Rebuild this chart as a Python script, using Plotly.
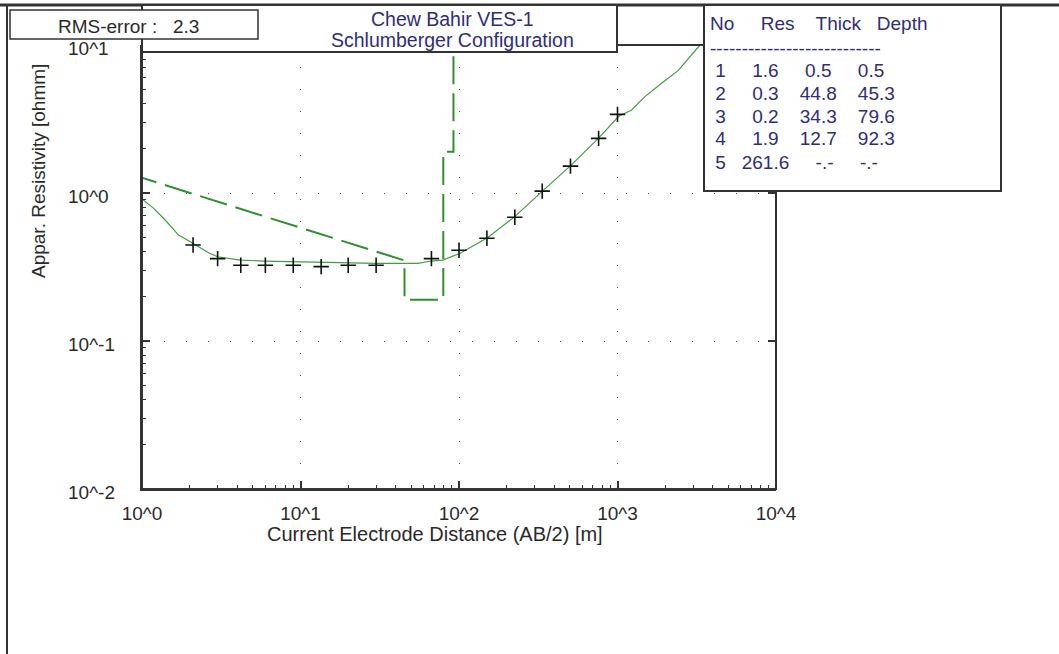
import numpy as np
import plotly.graph_objects as go

# ---------------- data ----------------
ab2 = [2.1, 3.0, 4.2, 6.0, 9.0, 13.5, 20, 30, 67, 100, 150, 225, 335, 505, 760, 1000]
rho_field = [0.445, 0.36, 0.325, 0.325, 0.325, 0.318, 0.325, 0.325, 0.36, 0.41,
             0.495, 0.685, 1.03, 1.52, 2.34, 3.4]

calc_x = [1.0, 1.18, 1.4, 1.7, 2.08, 2.63, 3.0, 4.17, 5.86, 10, 20, 30.3, 55, 66.5, 79,
          101, 152, 224, 336, 506, 762, 1019, 1227, 1489, 1897, 2421, 3243, 3600]
calc_y = [0.91, 0.79, 0.657, 0.52, 0.46, 0.395, 0.371, 0.352, 0.347, 0.343, 0.338, 0.335,
          0.335, 0.347, 0.352, 0.39, 0.50, 0.69, 1.03, 1.53, 2.36, 3.3, 3.64, 4.48, 5.51,
          6.74, 9.73, 10.8]

layer_res_plot = [1.6, 0.35, 0.19, 1.9, 261.6]
layer_depth = [0.5, 45.3, 79.6, 92.3]

table_no = ["1", "2", "3", "4", "5"]
table_res = ["1.6", "0.3", "0.2", "1.9", "261.6"]
table_thick = ["0.5", "44.8", "34.3", "12.7", "-.-"]
table_depth = ["0.5", "45.3", "79.6", "92.3", "-.-"]
rms_value = "2.3"

x_tickvals = [1, 10, 100, 1000, 10000]
x_ticktext = ["10^0", "10^1", "10^2", "10^3", "10^4"]
y_tickvals = [0.01, 0.1, 1, 10]
y_ticktext = ["10^-2", "10^-1", "10^0", "10^1"]

title_lines = ["Chew Bahir VES-1", "Schlumberger Configuration"]
x_title = "Current Electrode Distance (AB/2) [m]"
y_title = "Appar. Resistivity [ohmm]"

# ---------------- layout geometry (pixels) ----------------
W, H = 1059, 654
L, R, T, B = 142, 776, 45, 489
FONT = "Liberation Sans, Arial, sans-serif"
INK = "#2a2a2a"
NAVY = "#2e2e7a"
GREEN_MODEL = "#2f8f2f"
GREEN_CALC = "#3f9f3f"


def fx(px):
    return (px - L) / (R - L)


def fy(py):
    return (B - py) / (B - T)


# model polyline built from the layer arrays
mx = [layer_depth[0]]
my = [layer_res_plot[0]]
for i in range(1, len(layer_depth)):
    mx += [layer_depth[i], layer_depth[i]]
    my += [layer_res_plot[i], layer_res_plot[i + 1]]

minor_x = [k * 10 ** e for e in range(0, 4) for k in range(2, 10)]
minor_y = [k * 10.0 ** e for e in range(-2, 1) for k in range(2, 10)]

fig = go.Figure()
fig.add_trace(go.Scatter(x=mx, y=my, mode="lines",
                         line=dict(color=GREEN_MODEL, width=2, dash="28px,9px"),
                         hoverinfo="skip", showlegend=False))
fig.add_trace(go.Scatter(x=calc_x, y=calc_y, mode="lines",
                         line=dict(color=GREEN_CALC, width=1.2),
                         hoverinfo="skip", showlegend=False))
fig.add_trace(go.Scatter(x=ab2, y=rho_field, mode="markers",
                         marker=dict(symbol="cross-thin", size=11,
                                     line=dict(color="#111111", width=1.6)),
                         showlegend=False))
# invisible trace to anchor the right-hand tick axis
fig.add_trace(go.Scatter(x=[1], y=[1], yaxis="y2", mode="lines",
                         line=dict(width=0), hoverinfo="skip", showlegend=False))

axis_common = dict(type="log", showline=True, linecolor="#333333", linewidth=2,
                   mirror=False, ticks="inside", ticklen=8, tickwidth=1.5,
                   tickcolor="#333333", showgrid=True, gridcolor="#555555",
                   gridwidth=1, griddash="1px,21px", zeroline=False)

fig.update_layout(
    width=W, height=H,
    margin=dict(l=L, r=W - R, t=T, b=H - B, pad=0),
    paper_bgcolor="white", plot_bgcolor="white",
    font=dict(family=FONT, color=INK, size=19),
    xaxis=dict(range=[0, 4], tickvals=x_tickvals, ticktext=x_ticktext,
               tickfont=dict(size=19, color=INK), ticklabelstandoff=6,
               minor=dict(tickvals=minor_x, ticks="inside", ticklen=4,
                          tickcolor="#333333", tickwidth=1, showgrid=False),
               **axis_common),
    yaxis=dict(range=[-2, 1], tickvals=y_tickvals, showticklabels=False,
               minor=dict(tickvals=minor_y, ticks="inside", ticklen=4,
                          tickcolor="#333333", tickwidth=1, showgrid=False),
               **axis_common),
    yaxis2=dict(type="log", range=[-2, 1], overlaying="y", side="right",
                tickmode="array", tickvals=y_tickvals, ticks="inside", ticklen=8,
                tickwidth=1.5, tickcolor="#333333", showticklabels=False,
                showgrid=False, showline=False, zeroline=False,
                minor=dict(ticks="", showgrid=False)),
    showlegend=False,
)

shapes = []
# plot frame (top / right borders)
shapes.append(dict(type="rect", xref="paper", yref="paper", x0=0, x1=1, y0=0, y1=1,
                   line=dict(color="#333333", width=2), layer="above"))
# outer frame (top and left)
shapes.append(dict(type="line", xref="paper", yref="paper", x0=fx(0), x1=fx(W),
                   y0=fy(5), y1=fy(5), line=dict(color="#333333", width=3), layer="above"))
shapes.append(dict(type="line", xref="paper", yref="paper", x0=fx(7), x1=fx(7),
                   y0=fy(5), y1=fy(H), line=dict(color="#333333", width=2), layer="above"))
# title box
shapes.append(dict(type="rect", xref="paper", yref="paper", x0=fx(142), x1=fx(617),
                   y0=fy(52), y1=fy(5), fillcolor="white",
                   line=dict(color="#333333", width=2), layer="above"))
# RMS box
shapes.append(dict(type="rect", xref="paper", yref="paper", x0=fx(10), x1=fx(258),
                   y0=fy(39), y1=fy(10), fillcolor="white",
                   line=dict(color="#333333", width=1.5), layer="above"))
# table box
shapes.append(dict(type="rect", xref="paper", yref="paper", x0=fx(704), x1=fx(1001),
                   y0=fy(191), y1=fy(5), fillcolor="white",
                   line=dict(color="#333333", width=2), layer="above"))
fig.update_layout(shapes=shapes)

ann = []


def add_text(text, px, py, size=19, color=INK, anchor="left", angle=0):
    ann.append(dict(text=text, xref="paper", yref="paper", x=fx(px), y=fy(py),
                    xanchor=anchor, yanchor="middle", showarrow=False,
                    textangle=angle, font=dict(family=FONT, size=size, color=color)))


# RMS text
add_text("RMS-error :", 56, 27)
add_text(rms_value, 171, 27)
# title lines
add_text(title_lines[0], 452, 19, size=19.5, color=NAVY, anchor="center")
add_text(title_lines[1], 452, 40, size=19.5, color=NAVY, anchor="center")
# axis titles
add_text(x_title, 435, 534, size=20, anchor="center")
add_text(y_title, 38, 171, size=19, anchor="center", angle=-90)

# y tick labels (left aligned as in the reference)
for v, t in zip(y_tickvals, y_ticktext):
    ann.append(dict(text=t, xref="paper", yref="y", x=fx(66), y=np.log10(v),
                    xanchor="left", yanchor="middle", yshift=-3, showarrow=False,
                    font=dict(family=FONT, size=19, color=INK)))

# table
NB = "\u00a0"


def pad(s, n=8):
    return NB * (n - len(s)) + s


header = "No" + NB * 5 + "Res" + NB * 4 + "Thick" + NB * 3 + "Depth"
add_text(header, 708, 24, color=NAVY)
add_text("-" * 27, 708, 48, color=NAVY)
for i in range(len(table_no)):
    row = NB + table_no[i] + pad(table_res[i]) + pad(table_thick[i]) + pad(table_depth[i])
    add_text(row, 708, 70 + 23 * i, color=NAVY)

fig.update_layout(annotations=ann)

fig.write_html("out.html")
